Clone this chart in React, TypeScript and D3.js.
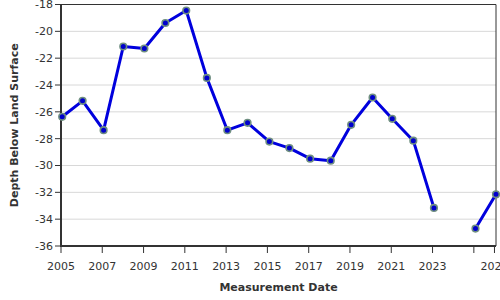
import React from "react";
import * as d3 from "d3";

const dates: string[] = [
  "2005-01-22", "2006-01-18", "2007-01-25", "2008-01-08", "2009-01-15",
  "2010-01-22", "2011-01-26", "2012-01-26", "2013-01-22", "2014-01-15",
  "2015-02-05", "2016-01-26", "2017-01-26", "2018-01-26", "2019-01-22",
  "2020-02-05", "2021-01-18", "2022-01-26", "2023-01-26", "2024-01-25",
  "2025-01-30", "2026-01-28",
];
const depths: (number | null)[] = [
  -26.37, -25.18, -27.37, -21.13, -21.28,
  -19.38, -18.45, -23.47, -27.37, -26.82,
  -28.22, -28.7, -29.49, -29.64, -26.97,
  -24.93, -26.52, -28.15, -33.16, null,
  -34.7, -32.15,
];
const yTicks: number[] = [-36, -34, -32, -30, -28, -26, -24, -22, -20, -18];
const xTickYears: number[] = [2005, 2007, 2009, 2011, 2013, 2015, 2017, 2019, 2021, 2023, 2025, 2026];
const xHiddenLabels: number[] = [2025];

const W = 500, H = 300;
const L = 61, R = 496, T = 4.5, B = 246;
const FONT = "DejaVu Sans, Verdana, sans-serif";

export default function App() {
  const parse = d3.timeParse("%Y-%m-%d");
  const data = dates.map((d, i) => ({ date: parse(d) as Date, v: depths[i] }));
  const x = d3.scaleTime()
    .domain([new Date(2005, 0, 1), data[data.length - 1].date])
    .range([L, R]);
  const y = d3.scaleLinear().domain([-36, -18]).range([B, T]);
  const line = d3.line<{ date: Date; v: number | null }>()
    .defined((d) => d.v !== null)
    .x((d) => x(d.date))
    .y((d) => y(d.v as number));
  const path = line(data) || "";

  return (
    <svg width={W} height={H} style={{ position: "absolute", left: 0, top: 0, background: "#fff" }}>
      <rect x={0} y={0} width={W} height={H} fill="#fff" />
      {yTicks.map((t) => (
        <line key={"g" + t} x1={L} x2={R} y1={y(t)} y2={y(t)} stroke="#d8d8d8" strokeWidth={1} />
      ))}
      {/* frame top/right */}
      <line x1={L} x2={R} y1={T} y2={T} stroke="#333" strokeWidth={1} />
      <line x1={R} x2={R} y1={T} y2={B} stroke="#333" strokeWidth={1} />
      {/* y axis */}
      <line x1={L} x2={L} y1={T} y2={B + 1} stroke="#333" strokeWidth={2} />
      {yTicks.map((t) => (
        <g key={"y" + t}>
          <line x1={L - 6} x2={L} y1={y(t)} y2={y(t)} stroke="#333" strokeWidth={1} />
          <text x={L - 8} y={y(t)} dy="0.35em" textAnchor="end" fontFamily={FONT} fontSize={11} fill="#333">
            {t}
          </text>
        </g>
      ))}
      {/* x axis */}
      <line x1={L - 1} x2={R} y1={B} y2={B} stroke="#333" strokeWidth={2} />
      {xTickYears.map((yr) => {
        const px = x(new Date(yr, 0, 1));
        return (
          <g key={"x" + yr}>
            <line x1={px} x2={px} y1={B} y2={B + 7} stroke="#333" strokeWidth={1} />
            {xHiddenLabels.indexOf(yr) < 0 && (
              <text x={px} y={B + 24} textAnchor="middle" fontFamily={FONT} fontSize={11} fill="#333">
                {yr}
              </text>
            )}
          </g>
        );
      })}
      <path d={path} fill="none" stroke="#0000dd" strokeWidth={3} strokeLinejoin="round" />
      {data.filter((d) => d.v !== null).map((d, i) => (
        <circle key={"p" + i} cx={x(d.date)} cy={y(d.v as number)} r={3.3}
          fill="#0000cc" stroke="#6f8f80" strokeWidth={1.6} />
      ))}
      <text x={(L + R) / 2} y={291} textAnchor="middle" fontFamily={FONT} fontSize={11} fontWeight="bold" fill="#333">
        Measurement Date
      </text>
      <text transform={`translate(18,${(T + B) / 2}) rotate(-90)`} textAnchor="middle" fontFamily={FONT}
        fontSize={11} fontWeight="bold" fill="#333">
        Depth Below Land Surface
      </text>
    </svg>
  );
}
